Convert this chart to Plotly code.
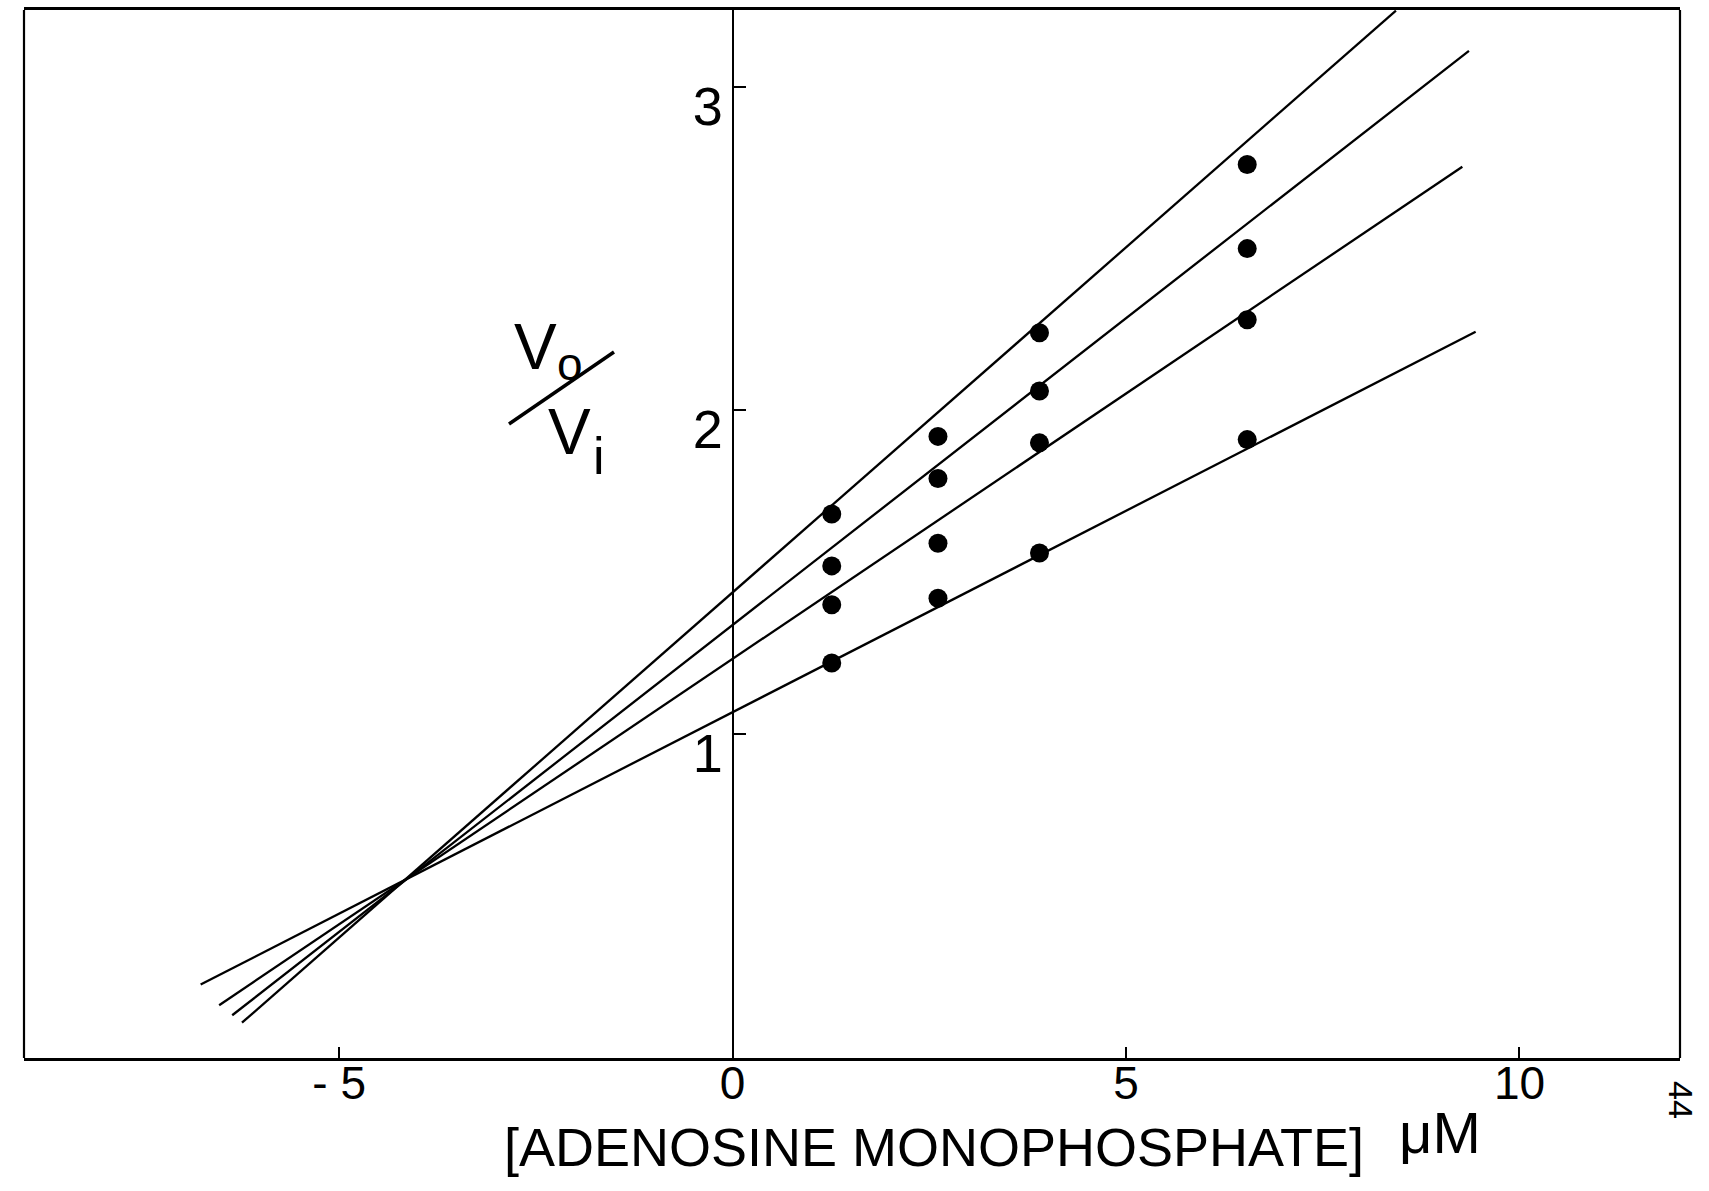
import plotly.graph_objects as go

# AMP concentration (uM) at which V0/Vi was measured
amp_conc = [1.26, 2.61, 3.90, 6.54]

# V0/Vi for the four inhibitor series
ratio_series_1 = [1.68, 1.92, 2.24, 2.76]
ratio_series_2 = [1.52, 1.79, 2.06, 2.50]
ratio_series_3 = [1.40, 1.59, 1.90, 2.28]
ratio_series_4 = [1.22, 1.42, 1.56, 1.91]

# hand-fitted straight lines: start / end points in data units
fit_x_start = [-6.235, -6.359, -6.525, -6.760]
fit_y_start = [0.109, 0.132, 0.163, 0.227]
fit_x_end = [8.43, 9.358, 9.274, 9.443]
fit_y_end = [3.235, 3.111, 2.753, 2.243]

# axis ticks
x_tick_vals = [-5, 0, 5, 10]
x_tick_text = ["- 5", "0", "5", "10"]
y_tick_vals = [1, 2, 3]
y_tick_text = ["1", "2", "3"]

FONT = "Liberation Sans, Arial, sans-serif"
INK = "black"

fig = go.Figure()

series = [ratio_series_1, ratio_series_2, ratio_series_3, ratio_series_4]
for i, ys in enumerate(series):
    fig.add_trace(go.Scatter(
        x=[fit_x_start[i], fit_x_end[i]],
        y=[fit_y_start[i], fit_y_end[i]],
        mode="lines",
        line=dict(color=INK, width=2.3),
        hoverinfo="skip",
        showlegend=False,
    ))
    fig.add_trace(go.Scatter(
        x=amp_conc,
        y=ys,
        mode="markers",
        marker=dict(color=INK, size=19, line=dict(width=0)),
        name=f"series {i + 1}",
        showlegend=False,
    ))

W, H = 1709, 1191
ML, MR, MT, MB = 24, 29, 10, 133
PW, PH = W - ML - MR, H - MT - MB
X_MIN, X_MAX = -9.005, 12.04
Y_MIN, Y_MAX = 0, 3.237


def px(xpix):
    return (xpix - ML) / PW


def py(ypix):
    return (H - MB - ypix) / PH


fig.update_xaxes(
    range=[X_MIN, X_MAX],
    tickmode="array", tickvals=x_tick_vals, ticktext=x_tick_text,
    ticks="inside", ticklen=11, tickwidth=2, tickcolor=INK,
    showgrid=False, zeroline=False,
    showline=True, linecolor=INK, linewidth=2.5, mirror=True,
    tickfont=dict(family=FONT, size=46, color=INK),
    ticklabelstandoff=-17,
)
fig.update_yaxes(
    range=[Y_MIN, Y_MAX],
    anchor="free", position=(0 - X_MIN) / (X_MAX - X_MIN),
    tickmode="array", tickvals=y_tick_vals, ticktext=y_tick_text,
    ticks="inside", ticklen=12, tickwidth=2, tickcolor=INK,
    showgrid=False, zeroline=False,
    showline=True, linecolor=INK, linewidth=2,
    tickfont=dict(family=FONT, size=54, color=INK),
    ticklabelshift=19, ticklabelstandoff=-2,
)

shapes = [
    # left and right sides of the frame
    dict(type="line", xref="paper", yref="paper", x0=0, x1=0, y0=0, y1=1,
         line=dict(color=INK, width=2.2)),
    dict(type="line", xref="paper", yref="paper", x0=1, x1=1, y0=0, y1=1,
         line=dict(color=INK, width=2.2)),
    # fraction bar of the V0/Vi label
    dict(type="line", xref="paper", yref="paper",
         x0=px(509), y0=py(424), x1=px(614), y1=py(352),
         line=dict(color=INK, width=3.5)),
]

annotations = [
    # V0 / Vi label, letters and their subscripts
    dict(text="V", x=px(535), y=py(347), font=dict(size=64)),
    dict(text="o", x=px(570), y=py(364), font=dict(size=46)),
    dict(text="V", x=px(569), y=py(432), font=dict(size=64)),
    dict(text="i", x=px(599), y=py(456), font=dict(size=52)),
    # x-axis title
    dict(text="[ADENOSINE MONOPHOSPHATE]", x=px(1365), y=py(1147),
         xanchor="right", font=dict(size=54)),
    dict(text="\u03bcM", x=px(1398), y=py(1132), xanchor="left",
         font=dict(size=58)),
    # page number
    dict(text="44", x=px(1681), y=py(1100), textangle=90,
         font=dict(size=34)),
]
for a in annotations:
    a.setdefault("xanchor", "center")
    a.setdefault("yanchor", "middle")
    a.update(xref="paper", yref="paper", showarrow=False, borderpad=0)
    a["font"] = dict(family=FONT, color=INK, **a["font"])

fig.update_layout(
    width=W, height=H,
    margin=dict(l=ML, r=MR, t=MT, b=MB, pad=0, autoexpand=False),
    paper_bgcolor="white", plot_bgcolor="white",
    shapes=shapes, annotations=annotations,
    showlegend=False,
)

fig.write_html("out.html")
